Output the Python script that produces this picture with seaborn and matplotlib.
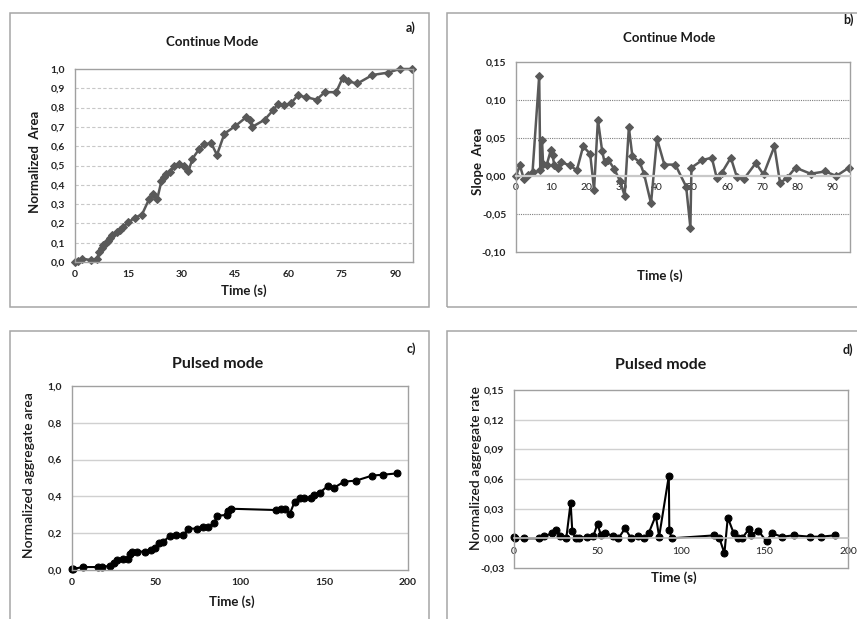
import matplotlib
matplotlib.use("Agg")
import matplotlib.pyplot as plt
import seaborn as sns
from matplotlib.patches import Rectangle
from matplotlib.ticker import FuncFormatter, FixedLocator

# ---------------- data ----------------
# a) Continue mode - normalized area
t_a = [0, 0.9, 2.1, 4.4, 6.3, 6.7, 7.5, 8.0, 8.6, 9.3, 9.8, 10.5, 11.7, 12.6, 13.4, 15.0,
       16.8, 18.8, 20.8, 22.0, 23.1, 24.3, 25.0, 25.7, 26.6, 27.8, 29.3, 30.6, 31.9, 33.0,
       34.9, 36.3, 38.3, 39.9, 42.0, 45.1, 48.1, 49.3, 49.8, 53.3, 55.6, 57.0, 58.7, 60.7,
       62.6, 65.0, 67.9, 70.2, 73.4, 75.2, 76.6, 79.4, 83.6, 87.9, 91.3, 94.6]
area_a = [0, 0.003, 0.017, 0.01, 0.017, 0.05, 0.07, 0.087, 0.1, 0.11, 0.125, 0.14, 0.155,
          0.165, 0.18, 0.205, 0.23, 0.245, 0.325, 0.35, 0.325, 0.42, 0.44, 0.455, 0.465,
          0.495, 0.51, 0.5, 0.47, 0.535, 0.585, 0.61, 0.615, 0.555, 0.665, 0.705, 0.75,
          0.735, 0.70, 0.737, 0.785, 0.818, 0.811, 0.823, 0.863, 0.854, 0.841, 0.880, 0.880,
          0.953, 0.936, 0.925, 0.969, 0.981, 1.0, 1.0]

# b) Continue mode - slope area
t_b = [0, 1.1, 2.2, 3.5, 4.7, 6.6, 6.9, 7.4, 7.7, 8.7, 9.9, 10.4, 10.9, 12.0, 12.9, 15.3,
       17.3, 19.1, 21.1, 22.2, 23.3, 24.5, 25.2, 26.2, 27.9, 29.6, 30.9, 32.1, 33.1, 35.2,
       36.4, 38.4, 40.1, 42.2, 45.3, 48.4, 49.6, 49.9, 53.0, 55.7, 57.1, 58.5, 61.1, 62.8,
       64.9, 68.2, 70.4, 73.5, 75.1, 77.0, 79.5, 83.8, 88.0, 91.1, 94.7]
slope_b = [0, 0.014, -0.0035, 0.001, 0.005, 0.132, 0.0075, 0.048, 0.016, 0.014, 0.034,
           0.027, 0.014, 0.011, 0.018, 0.014, 0.0075, 0.039, 0.029, -0.018, 0.074, 0.033,
           0.018, 0.0215, 0.0096, -0.0066, -0.026, 0.064, 0.026, 0.018, 0.003, -0.036,
           0.049, 0.015, 0.015, -0.014, -0.068, 0.011, 0.021, 0.024, -0.0026, 0.004, 0.024,
           -0.001, -0.0035, 0.017, 0.002, 0.039, -0.009, -0.003, 0.011, 0.003, 0.006, 0.0,
           0.011]

# c) Pulsed mode - normalized aggregate area
t_c = [0, 0.6, 6.6, 15.5, 18.1, 22.9, 25.0, 26.8, 30.4, 33.4, 34.4, 36.0, 38.4, 43.3, 47.3,
       49.3, 51.7, 54.3, 58.3, 62.2, 66.2, 69.2, 74.2, 77.7, 81.1, 84.5, 86.5, 92.0, 93.0,
       94.4, 121.2, 124.2, 127.0, 129.6, 132.5, 135.5, 137.9, 142.1, 143.8, 147.4, 152.4,
       156.0, 161.9, 169.2, 178.6, 185.1, 193.5]
area_c = [0.004, 0.006, 0.016, 0.016, 0.016, 0.024, 0.04, 0.054, 0.06, 0.06, 0.087, 0.1, 0.1,
          0.1, 0.109, 0.118, 0.145, 0.154, 0.185, 0.188, 0.188, 0.225, 0.225, 0.232, 0.232,
          0.254, 0.295, 0.299, 0.321, 0.333, 0.326, 0.333, 0.333, 0.304, 0.371, 0.391, 0.389,
          0.389, 0.408, 0.42, 0.457, 0.447, 0.48, 0.486, 0.513, 0.518, 0.525]

# d) Pulsed mode - normalized aggregate rate
t_d = [0, 0.5, 6.0, 15.1, 17.7, 22.8, 25.4, 27.4, 31.3, 33.9, 34.9, 36.9, 38.9, 43.5, 47.6,
       50.0, 52.0, 54.4, 59.1, 62.5, 66.5, 70.2, 74.2, 77.8, 80.6, 84.9, 86.9, 92.7, 93.0,
       94.4, 120.0, 123.0, 126.0, 128.0, 131.6, 134.0, 136.6, 140.6, 142.2, 146.2, 151.2,
       154.2, 160.6, 167.6, 177.0, 183.6, 192.2]
rate_d = [0.001, 0.0, 0.0, 0.0, 0.002, 0.005, 0.008, 0.0024, 0.0, 0.036, 0.0074, 0.0, 0.0,
          0.0017, 0.0027, 0.0145, 0.0034, 0.0057, 0.0024, 0.0, 0.01, 0.0, 0.0024, 0.0, 0.005,
          0.023, 0.0017, 0.063, 0.0084, 0.0, 0.003, 0.0, -0.015, 0.021, 0.005, 0.0, 0.0,
          0.0094, 0.0034, 0.0078, -0.003, 0.005, 0.0017, 0.003, 0.0017, 0.0017, 0.003]

xticks_a = [0, 15, 30, 45, 60, 75, 90]
yticks_a = [0.0, 0.1, 0.2, 0.3, 0.4, 0.5, 0.6, 0.7, 0.8, 0.9, 1.0]
xticks_b = [0, 10, 20, 30, 40, 50, 60, 70, 80, 90]
yticks_b = [-0.10, -0.05, 0.0, 0.05, 0.10, 0.15]
xticks_cd = [0, 50, 100, 150, 200]
yticks_c = [0.0, 0.2, 0.4, 0.6, 0.8, 1.0]
yticks_d = [-0.03, 0.0, 0.03, 0.06, 0.09, 0.12, 0.15]

# ---------------- style ----------------
sns.set_theme(style="white")
FONT = ["Lato", "DejaVu Sans"]
plt.rcParams["font.family"] = FONT

W, H = 857, 619
fig = plt.figure(figsize=(W / 100, H / 100), dpi=100)


def ax_at(l, t, r, b):
    return fig.add_axes([l / W, 1 - b / H, (r - l) / W, (b - t) / H])


def ftext(x, y, s, **kw):
    fig.text(x / W, 1 - y / H, s, **kw)


def frame(l, t, r, b):
    fig.add_artist(Rectangle((l / W, 1 - b / H), (r - l) / W, (b - t) / H,
                             transform=fig.transFigure, fill=False,
                             edgecolor="#a6a6a6", linewidth=1.1))


def comma_fmt(nd):
    return FuncFormatter(lambda v, p: (f"{v:.{nd}f}").replace(".", ",").replace("-0,00", "0,00"))


frame(10, 13, 429, 307)
frame(447, 13, 880, 307)
frame(10, 331, 429, 640)
frame(447, 331, 880, 640)

GRAY_LINE = "#595959"
SPINE = "#a0a0a0"


def style_axes(ax):
    for s in ax.spines.values():
        s.set_color(SPINE)
        s.set_linewidth(1.0)
    ax.tick_params(axis="both", length=0, labelsize=7.5, colors="#222222")
    for lab in ax.get_xticklabels() + ax.get_yticklabels():
        lab.set_fontweight("bold")
    ax.grid(False)
    for ln in ax.get_lines():
        ln.set_clip_on(False)
    ax.set_xlabel("")
    ax.set_ylabel("")


# ---- a) ----
ax = ax_at(75, 69, 413, 262)
sns.lineplot(x=t_a, y=area_a, ax=ax, sort=False, estimator=None, color=GRAY_LINE,
             linewidth=1.8, marker="D", markersize=3.8, markeredgecolor=GRAY_LINE)
ax.set_xlim(0, 95)
ax.set_ylim(0, 1.0)
ax.xaxis.set_major_locator(FixedLocator(xticks_a))
ax.yaxis.set_major_locator(FixedLocator(yticks_a))
ax.yaxis.set_major_formatter(comma_fmt(1))
style_axes(ax)
for yv in yticks_a[1:-1]:
    ax.axhline(yv, color="#c8c8c8", linewidth=0.8, linestyle=(0, (3, 2)), zorder=0)
ax.tick_params(axis="x", pad=6)
ax.tick_params(axis="y", pad=7)

# ---- b) ----
ax = ax_at(516, 62, 850, 252)
sns.lineplot(x=t_b, y=slope_b, ax=ax, sort=False, estimator=None, color=GRAY_LINE,
             linewidth=1.8, marker="D", markersize=3.8, markeredgecolor=GRAY_LINE)
ax.set_xlim(0, 95)
ax.set_ylim(-0.10, 0.15)
ax.xaxis.set_major_locator(FixedLocator(xticks_b))
ax.yaxis.set_major_locator(FixedLocator(yticks_b))
ax.yaxis.set_major_formatter(comma_fmt(2))
style_axes(ax)
for yv in [-0.05, 0.05, 0.10]:
    ax.axhline(yv, color="#7f7f7f", linewidth=0.8, linestyle=(0, (1, 1)), zorder=0)
ax.spines["bottom"].set_position(("data", 0))
ax.spines["bottom"].set_color("#c8c8c8")
ax.spines["bottom"].set_linewidth(1.6)
ax.axhline(-0.10, color=SPINE, linewidth=1.0, clip_on=False)
ax.tick_params(axis="x", pad=5)
ax.tick_params(axis="y", pad=7)

# ---- c) ----
ax = ax_at(72, 386, 408, 570)
sns.lineplot(x=t_c, y=area_c, ax=ax, sort=False, estimator=None, color="black",
             linewidth=1.5, marker="o", markersize=5, markeredgecolor="black")
ax.set_xlim(0, 200)
ax.set_ylim(0, 1.0)
ax.xaxis.set_major_locator(FixedLocator(xticks_cd))
ax.yaxis.set_major_locator(FixedLocator(yticks_c))
ax.yaxis.set_major_formatter(comma_fmt(1))
style_axes(ax)
for yv in yticks_c[1:-1]:
    ax.axhline(yv, color="#d0d0d0", linewidth=1.0, zorder=0)
ax.tick_params(axis="x", pad=6)
ax.tick_params(axis="y", pad=7)

# ---- d) ----
ax = ax_at(514, 390, 848, 568)
sns.lineplot(x=t_d, y=rate_d, ax=ax, sort=False, estimator=None, color="black",
             linewidth=1.5, marker="o", markersize=5, markeredgecolor="black")
ax.set_xlim(0, 200)
ax.set_ylim(-0.03, 0.15)
ax.xaxis.set_major_locator(FixedLocator(xticks_cd))
ax.yaxis.set_major_locator(FixedLocator(yticks_d))
ax.yaxis.set_major_formatter(comma_fmt(2))
style_axes(ax)
for yv in [0.03, 0.06, 0.09, 0.12]:
    ax.axhline(yv, color="#d0d0d0", linewidth=1.0, zorder=0)
ax.spines["bottom"].set_position(("data", 0))
ax.spines["bottom"].set_color("#c0c0c0")
ax.spines["bottom"].set_linewidth(1.2)
ax.axhline(-0.03, color=SPINE, linewidth=1.0, clip_on=False)
ax.tick_params(axis="x", pad=6)
ax.tick_params(axis="y", pad=7)

# ---------------- texts ----------------
bold = dict(fontweight="bold", color="#1a1a1a", ha="center", va="center")
ftext(212, 42, "Continue Mode", fontsize=9.5, **bold)
ftext(669, 38, "Continue Mode", fontsize=9.5, **bold)
ftext(218, 364, "Pulsed mode", fontsize=11.5, **bold)
ftext(661, 365, "Pulsed mode", fontsize=11.5, **bold)

ftext(411, 28, "a)", fontsize=9, **bold)
ftext(848, 20, "b)", fontsize=9, **bold)
ftext(411, 349, "c)", fontsize=9, **bold)
ftext(848, 350, "d)", fontsize=9, **bold)

ftext(244, 291, "Time (s)", fontsize=9.5, **bold)
ftext(660, 276, "Time (s)", fontsize=9.5, **bold)
ftext(232, 602, "Time (s)", fontsize=9.5, **bold)
ftext(674, 578, "Time (s)", fontsize=9.5, **bold)

ftext(35, 162, "Normalized  Area", fontsize=9.5, rotation=90, **bold)
ftext(478, 161, "Slope  Area", fontsize=9.5, rotation=90, **bold)
ftext(29, 475, "Normalized aggregate area", fontsize=10, rotation=90,
      color="#1a1a1a", ha="center", va="center", fontweight="semibold")
ftext(476, 468, "Normalized aggregate rate", fontsize=10, rotation=90,
      color="#1a1a1a", ha="center", va="center", fontweight="semibold")

fig.savefig("out.png", dpi=100)
